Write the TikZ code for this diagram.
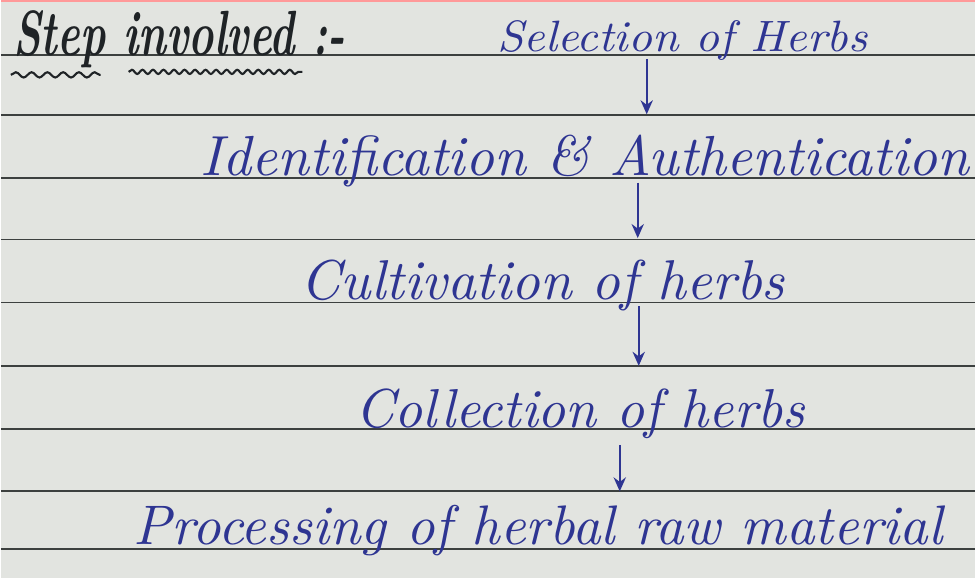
\documentclass[tikz,border=0pt]{standalone}
\usepackage{graphicx}
\usepackage{xcolor}
\usetikzlibrary{arrows.meta,decorations.pathmorphing}
\definecolor{ink}{HTML}{2E3592}
\definecolor{pencil}{HTML}{1F2326}
\definecolor{paper}{HTML}{E2E4E0}
\definecolor{rule}{HTML}{3C403F}
\newcommand{\hw}[2]{\resizebox{#1}{!}{\itshape #2}}

\begin{document}
\begin{tikzpicture}[x=0.02cm,y=-0.02cm,>=Stealth,
  step text/.style={anchor=base west,inner sep=0pt,text=ink},
  flow/.style={->,draw=ink,line width=1.2pt,shorten <=4pt,shorten >=35pt,
    arrows={-Stealth[length=8pt,width=7pt]}}]
% sheet
\fill[paper] (0,0) rectangle (976,579);
\draw[red!40,line width=1pt] (0,1) -- (976,1);
% ruled lines
\foreach \y in {55,115,178,240,303,367,430,492,550}
  \draw[rule,line width=1pt] (0,\y) -- (976,\y);
% heading
\node[step text,text=pencil] (head) at (12,56)
  {\resizebox{6.66cm}{0.9cm}{\bfseries\itshape Step involved :-}};
\draw[pencil,line width=1.2pt,decorate,decoration={snake,segment length=9pt,amplitude=1.5pt}]
  (10,75) -- (100,75);
\draw[pencil,line width=1.2pt,decorate,decoration={snake,segment length=6pt,amplitude=1.2pt}]
  (128,72) -- (302,72);
% steps
\node[step text] (sel) at (497,52) {\resizebox{7.42cm}{0.62cm}{\itshape Selection of Herbs}};
\node[step text] (ident) at (200,176) {\hw{15.4cm}{Identification \& Authentication}};
\node[step text] (cult) at (300,300) {\hw{9.7cm}{Cultivation of herbs}};
\node[step text] (coll) at (355,428) {\hw{9.0cm}{Collection of herbs}};
\node[step text] (proc) at (133,545) {\hw{16.2cm}{Processing of herbal raw material}};
% arrows
\draw[flow] (sel.base -| 647,0) -- (ident.base -| 647,0);
\draw[flow] (ident.base -| 638,0) -- (cult.base -| 638,0);
\draw[flow] (cult.base -| 639,0) -- (coll.base -| 639,0);
\draw[flow,shorten <=10pt,shorten >=30pt] (coll.base -| 620,0) -- (proc.base -| 620,0);
\end{tikzpicture}
\end{document}
